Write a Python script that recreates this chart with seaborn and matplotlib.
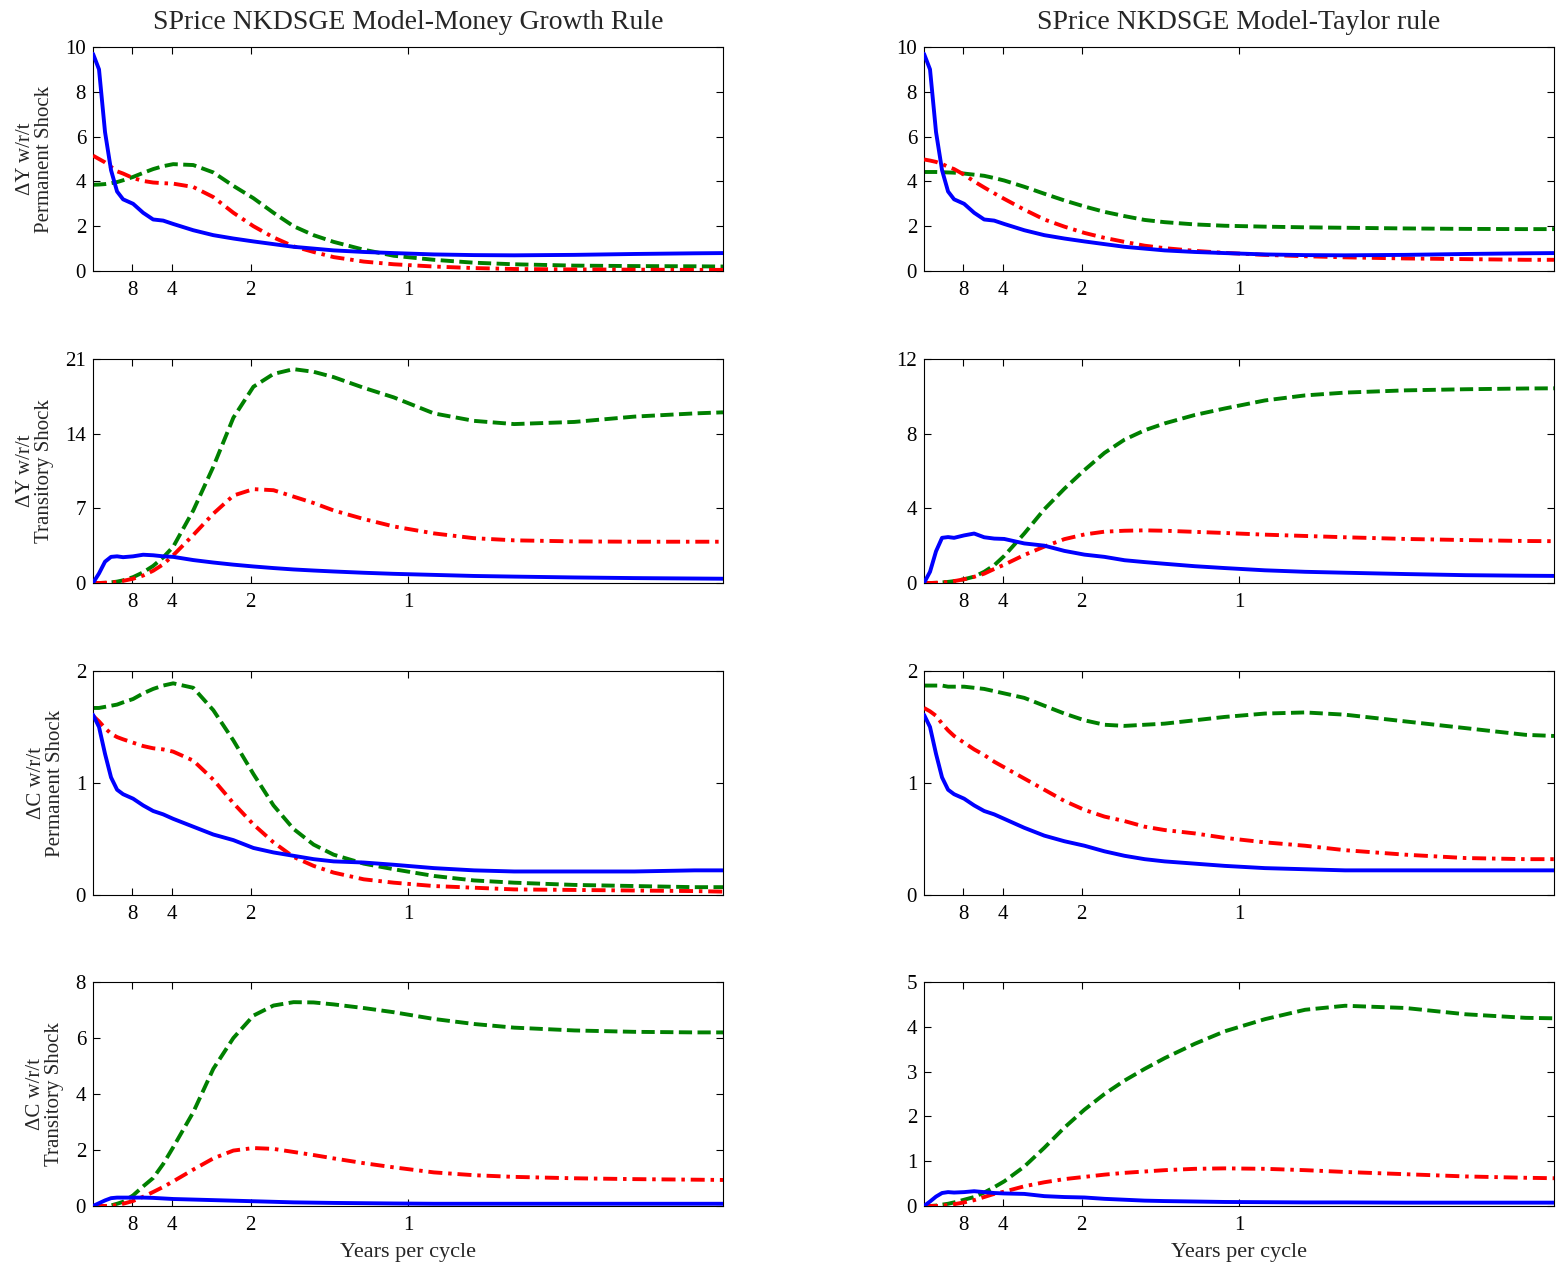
import numpy as np
import pandas as pd
import matplotlib
matplotlib.use("Agg")
import matplotlib.pyplot as plt
import seaborn as sns

# frequency grid (radians, 0..pi)
freq = [0, 0.03, 0.06, 0.09, 0.12, 0.15, 0.2, 0.25, 0.3, 0.35, 0.4, 0.5, 0.6, 0.7,
        0.8, 0.9, 1.0, 1.1, 1.2, 1.35, 1.5, 1.7, 1.9, 2.1, 2.4, 2.7, 3.0, 3.1416]

# ---- Money growth rule (left column) ----
mg_y_perm_blue = [9.7, 9.0, 6.2, 4.5, 3.55, 3.2, 3.0, 2.6, 2.3, 2.25, 2.1, 1.82, 1.6, 1.45,
                  1.32, 1.2, 1.08, 1.0, 0.92, 0.85, 0.8, 0.74, 0.71, 0.7, 0.72, 0.76, 0.79, 0.8]
mg_y_perm_red = [5.15, 5.0, 4.85, 4.65, 4.45, 4.35, 4.15, 4.02, 3.95, 3.92, 3.9, 3.75, 3.3, 2.6,
                 2.0, 1.5, 1.1, 0.85, 0.62, 0.42, 0.3, 0.2, 0.13, 0.09, 0.07, 0.06, 0.05, 0.05]
mg_y_perm_green = [3.85, 3.86, 3.88, 3.92, 3.97, 4.05, 4.2, 4.38, 4.55, 4.68, 4.77, 4.73, 4.4, 3.8,
                   3.25, 2.6, 2.0, 1.6, 1.3, 0.95, 0.68, 0.5, 0.37, 0.3, 0.24, 0.22, 0.21, 0.2]

mg_y_tran_blue = [0, 0.9, 2.0, 2.45, 2.5, 2.42, 2.5, 2.65, 2.6, 2.5, 2.45, 2.15, 1.92, 1.72,
                  1.55, 1.4, 1.27, 1.17, 1.08, 0.96, 0.86, 0.76, 0.66, 0.6, 0.52, 0.46, 0.42, 0.4]
mg_y_tran_red = [0, 0, 0.02, 0.05, 0.1, 0.2, 0.4, 0.7, 1.15, 1.75, 2.6, 4.5, 6.5, 8.2,
                 8.8, 8.7, 8.1, 7.5, 6.8, 6.0, 5.3, 4.65, 4.2, 4.0, 3.9, 3.87, 3.87, 3.87]
mg_y_tran_green = [0, 0, 0.02, 0.06, 0.13, 0.25, 0.55, 1.0, 1.6, 2.4, 3.4, 6.8, 10.9, 15.5,
                   18.4, 19.6, 20.05, 19.8, 19.3, 18.3, 17.4, 15.9, 15.2, 14.9, 15.1, 15.6, 15.9, 16.0]

mg_c_perm_blue = [1.61, 1.5, 1.26, 1.05, 0.94, 0.9, 0.86, 0.8, 0.75, 0.72, 0.68, 0.61, 0.54, 0.49,
                  0.42, 0.38, 0.35, 0.32, 0.3, 0.29, 0.27, 0.24, 0.22, 0.21, 0.21, 0.21, 0.22, 0.22]
mg_c_perm_red = [1.6, 1.55, 1.49, 1.44, 1.41, 1.39, 1.36, 1.33, 1.31, 1.3, 1.28, 1.2, 1.03, 0.82,
                 0.63, 0.47, 0.34, 0.26, 0.2, 0.14, 0.11, 0.08, 0.065, 0.05, 0.045, 0.04, 0.035, 0.03]
mg_c_perm_green = [1.67, 1.67, 1.68, 1.69, 1.7, 1.72, 1.75, 1.8, 1.84, 1.87, 1.89, 1.85, 1.65, 1.38,
                   1.08, 0.8, 0.59, 0.45, 0.36, 0.28, 0.23, 0.17, 0.13, 0.11, 0.09, 0.08, 0.07, 0.07]

mg_c_tran_blue = [0, 0.1, 0.2, 0.28, 0.3, 0.3, 0.3, 0.3, 0.29, 0.27, 0.25, 0.23, 0.21, 0.19,
                  0.17, 0.15, 0.13, 0.12, 0.11, 0.1, 0.09, 0.08, 0.08, 0.08, 0.08, 0.08, 0.08, 0.08]
mg_c_tran_red = [0, 0, 0, 0.01, 0.03, 0.08, 0.18, 0.33, 0.5, 0.68, 0.88, 1.3, 1.7, 1.98,
                 2.07, 2.04, 1.93, 1.82, 1.7, 1.53, 1.38, 1.2, 1.1, 1.04, 0.99, 0.96, 0.94, 0.93]
mg_c_tran_green = [0, 0, 0, 0.02, 0.08, 0.15, 0.38, 0.7, 1.0, 1.5, 2.1, 3.35, 4.9, 6.0,
                   6.8, 7.16, 7.28, 7.27, 7.2, 7.07, 6.92, 6.68, 6.5, 6.37, 6.27, 6.22, 6.2, 6.2]

# ---- Taylor rule (right column) ----
tr_y_perm_blue = [9.7, 9.0, 6.2, 4.5, 3.55, 3.2, 3.0, 2.6, 2.3, 2.25, 2.1, 1.82, 1.6, 1.45,
                  1.32, 1.2, 1.08, 1.0, 0.92, 0.85, 0.8, 0.74, 0.71, 0.7, 0.72, 0.76, 0.79, 0.8]
tr_y_perm_red = [4.98, 4.93, 4.87, 4.78, 4.65, 4.55, 4.3, 4.0, 3.73, 3.47, 3.22, 2.74, 2.3, 1.98,
                 1.7, 1.48, 1.3, 1.13, 1.02, 0.9, 0.81, 0.72, 0.66, 0.61, 0.56, 0.53, 0.5, 0.5]
tr_y_perm_green = [4.42, 4.42, 4.42, 4.41, 4.4, 4.39, 4.35, 4.3, 4.25, 4.15, 4.04, 3.76, 3.45, 3.15,
                   2.88, 2.64, 2.45, 2.28, 2.18, 2.08, 2.02, 1.98, 1.95, 1.93, 1.9, 1.88, 1.87, 1.87]

tr_y_tran_blue = [0, 0.6, 1.7, 2.42, 2.46, 2.42, 2.55, 2.65, 2.45, 2.38, 2.36, 2.12, 2.0, 1.72,
                  1.52, 1.4, 1.22, 1.12, 1.03, 0.9, 0.8, 0.68, 0.6, 0.55, 0.48, 0.42, 0.39, 0.38]
tr_y_tran_red = [0, 0, 0.01, 0.03, 0.05, 0.1, 0.2, 0.33, 0.5, 0.75, 0.98, 1.5, 1.95, 2.35,
                 2.6, 2.75, 2.8, 2.82, 2.8, 2.74, 2.68, 2.59, 2.52, 2.45, 2.36, 2.3, 2.25, 2.24]
tr_y_tran_green = [0, 0, 0.01, 0.03, 0.06, 0.1, 0.2, 0.34, 0.6, 0.95, 1.45, 2.65, 3.95, 5.05,
                   6.05, 6.97, 7.68, 8.18, 8.55, 9.0, 9.35, 9.78, 10.05, 10.2, 10.32, 10.38, 10.42, 10.43]

tr_c_perm_blue = [1.61, 1.5, 1.26, 1.05, 0.94, 0.9, 0.86, 0.8, 0.75, 0.72, 0.68, 0.6, 0.53, 0.48,
                  0.44, 0.39, 0.35, 0.32, 0.3, 0.28, 0.26, 0.24, 0.23, 0.22, 0.22, 0.22, 0.22, 0.22]
tr_c_perm_red = [1.67, 1.64, 1.6, 1.53, 1.47, 1.42, 1.36, 1.3, 1.25, 1.19, 1.14, 1.04, 0.94, 0.84,
                 0.76, 0.7, 0.66, 0.61, 0.58, 0.55, 0.51, 0.47, 0.44, 0.4, 0.36, 0.33, 0.32, 0.32]
tr_c_perm_green = [1.87, 1.87, 1.87, 1.87, 1.86, 1.86, 1.86, 1.85, 1.84, 1.82, 1.8, 1.76, 1.69, 1.62,
                   1.56, 1.52, 1.51, 1.52, 1.53, 1.56, 1.59, 1.62, 1.63, 1.61, 1.55, 1.49, 1.43, 1.42]

tr_c_tran_blue = [0, 0.1, 0.21, 0.29, 0.31, 0.3, 0.31, 0.33, 0.31, 0.29, 0.28, 0.27, 0.22, 0.2,
                  0.19, 0.16, 0.14, 0.12, 0.11, 0.1, 0.09, 0.085, 0.08, 0.08, 0.075, 0.075, 0.075, 0.075]
tr_c_tran_red = [0, 0, 0, 0.01, 0.02, 0.04, 0.08, 0.13, 0.2, 0.27, 0.32, 0.44, 0.53, 0.6,
                 0.65, 0.7, 0.74, 0.77, 0.8, 0.83, 0.84, 0.83, 0.8, 0.76, 0.71, 0.66, 0.63, 0.62]
tr_c_tran_green = [0, 0, 0.01, 0.03, 0.05, 0.08, 0.14, 0.2, 0.3, 0.42, 0.55, 0.88, 1.3, 1.75,
                   2.15, 2.5, 2.8, 3.06, 3.3, 3.62, 3.9, 4.17, 4.38, 4.47, 4.42, 4.28, 4.2, 4.19]

titles = ["SPrice NKDSGE Model-Money Growth Rule", "SPrice NKDSGE Model-Taylor rule"]
row_labels = ["\u0394Y w/r/t\nPermanent Shock", "\u0394Y w/r/t\nTransitory Shock",
              "\u0394C w/r/t\nPermanent Shock", "\u0394C w/r/t\nTransitory Shock"]
xtick_pos = [np.pi / 16, np.pi / 8, np.pi / 4, np.pi / 2]
xtick_labels = ["8", "4", "2", "1"]
xlabel = "Years per cycle"

panels = [
    [(mg_y_perm_blue, mg_y_perm_red, mg_y_perm_green), (tr_y_perm_blue, tr_y_perm_red, tr_y_perm_green)],
    [(mg_y_tran_blue, mg_y_tran_red, mg_y_tran_green), (tr_y_tran_blue, tr_y_tran_red, tr_y_tran_green)],
    [(mg_c_perm_blue, mg_c_perm_red, mg_c_perm_green), (tr_c_perm_blue, tr_c_perm_red, tr_c_perm_green)],
    [(mg_c_tran_blue, mg_c_tran_red, mg_c_tran_green), (tr_c_tran_blue, tr_c_tran_red, tr_c_tran_green)],
]
yticks = [
    [[0, 2, 4, 6, 8, 10], [0, 2, 4, 6, 8, 10]],
    [[0, 7, 14, 21], [0, 4, 8, 12]],
    [[0, 1, 2], [0, 1, 2]],
    [[0, 2, 4, 6, 8], [0, 1, 2, 3, 4, 5]],
]

sns.set_style("ticks")
plt.rcParams["font.family"] = ["Liberation Serif", "DejaVu Serif"]

W, H = 1564, 1266
fig = plt.figure(figsize=(W / 100, H / 100), dpi=100)

col_left = [93, 924]
ax_w = 630
row_top = [47, 359, 671, 982]
ax_h = 224

styles = [
    dict(color="#0000ff", linestyle="-"),
    dict(color="#ff0000", linestyle=(0, (3.6, 1.5, 0.9, 1.5))),
    dict(color="#008000", linestyle=(0, (3.4, 1.4))),
]

for r in range(4):
    for c in range(2):
        ax = fig.add_axes([col_left[c] / W, 1 - (row_top[r] + ax_h) / H, ax_w / W, ax_h / H])
        blue, red, green = panels[r][c]
        for series, st, z in [(green, styles[2], 2), (red, styles[1], 3), (blue, styles[0], 4)]:
            df = pd.DataFrame({"freq": freq, "val": series})
            sns.lineplot(data=df, x="freq", y="val", ax=ax, color=st["color"],
                         linestyle=st["linestyle"], linewidth=2.8, zorder=z)
        ax.set_xlim(0, np.pi)
        ax.set_ylim(yticks[r][c][0], yticks[r][c][-1])
        ax.set_xticks(xtick_pos)
        ax.set_xticklabels(xtick_labels)
        ax.set_yticks(yticks[r][c])
        ax.tick_params(direction="in", top=True, right=True, length=5, width=0.8,
                       labelsize=15, colors="black")
        ax.tick_params(axis="x", pad=7)
        ax.tick_params(axis="y", pad=5)
        for sp in ax.spines.values():
            sp.set_linewidth(0.8)
            sp.set_color("black")
        ax.set_xlabel(xlabel if r == 3 else "", fontsize=16, labelpad=6)
        if c == 0:
            ax.set_ylabel(row_labels[r], fontsize=15, labelpad=8, linespacing=1.0)
        else:
            ax.set_ylabel("")
        if r == 0:
            ax.set_title(titles[c], fontsize=20, pad=13)

fig.savefig("out.png", dpi=100)
